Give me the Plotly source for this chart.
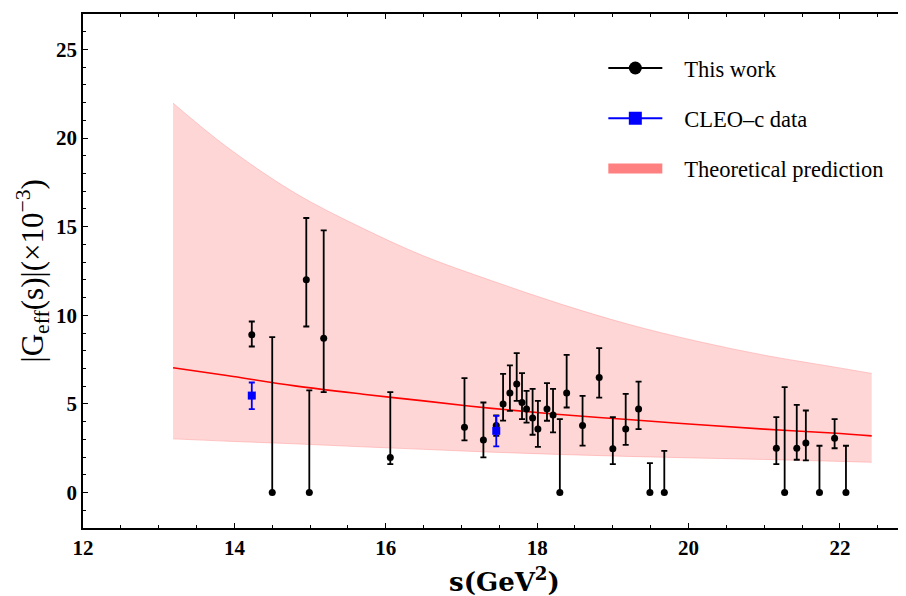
import plotly.graph_objects as go

# ---- Data: "This work" ----
s_work = [14.23, 14.50, 14.95, 14.99, 15.18, 16.06, 17.04, 17.29, 17.46, 17.55,
          17.64, 17.73, 17.80, 17.86, 17.94, 18.01, 18.13, 18.21, 18.30, 18.39,
          18.60, 18.82, 19.00, 19.17, 19.34, 19.49, 19.68, 21.16, 21.27, 21.43,
          21.55, 21.73, 21.93, 22.08]
g_work = [8.90, 0.0, 12.0, 0.0, 8.71, 1.98, 3.69, 2.97, 3.78, 5.00,
          5.61, 6.12, 5.08, 4.71, 4.20, 3.59, 4.71, 4.38, 0.0, 5.61,
          3.78, 6.49, 2.47, 3.59, 4.71, 0.0, 0.0, 2.50, 0.0, 2.50,
          2.79, 0.0, 3.07, 0.0]
g_work_hi = [9.65, 8.77, 15.49, 5.76, 14.79, 5.67, 6.46, 5.08, 4.35, 6.70,
             7.17, 7.87, 6.74, 5.74, 5.85, 5.17, 6.17, 5.85, 4.14, 7.77,
             5.46, 8.15, 4.26, 5.57, 6.26, 1.66, 2.35, 4.26, 5.95, 4.95,
             4.63, 2.64, 4.14, 2.64]
g_work_lo = [8.24, 0.0, 9.37, 0.0, 5.67, 1.60, 2.94, 1.98, 3.20, 4.06,
             4.61, 5.17, 4.14, 3.95, 3.26, 2.58, 4.05, 3.39, 0.0, 4.80,
             2.65, 5.36, 1.60, 2.69, 3.58, 0.0, 0.0, 1.60, 0.0, 1.85,
             1.81, 0.0, 2.50, 0.0]

# ---- Data: CLEO-c ----
s_cleo = [14.23, 17.46]
g_cleo = [5.47, 3.48]
g_cleo_hi = [6.21, 4.33]
g_cleo_lo = [4.71, 2.60]

# ---- Theoretical prediction ----
s_theory = [13.19, 13.9, 14.8, 15.7, 16.5, 17.4, 18.3, 19.2, 20.1, 21.0, 21.9, 22.42]
g_center = [7.04, 6.60, 6.02, 5.55, 5.17, 4.75, 4.40, 4.12, 3.84, 3.58, 3.36, 3.20]
g_upper = [21.97, 19.5, 16.9, 14.9, 13.35, 11.95, 10.65, 9.50, 8.55, 7.75, 7.10, 6.72]
g_lower = [3.03, 2.90, 2.75, 2.58, 2.44, 2.28, 2.15, 2.04, 1.95, 1.87, 1.77, 1.71]

x_ticks = [12, 14, 16, 18, 20, 22]
y_ticks = [0, 5, 10, 15, 20, 25]

err_p = [h - v for h, v in zip(g_work_hi, g_work)]
err_m = [v - l for v, l in zip(g_work, g_work_lo)]
cerr_p = [h - v for h, v in zip(g_cleo_hi, g_cleo)]
cerr_m = [v - l for v, l in zip(g_cleo, g_cleo_lo)]

fig = go.Figure()

edge = dict(color="rgba(255,160,160,0.7)", width=0.8, shape="spline")
# band
fig.add_trace(go.Scatter(x=s_theory, y=g_lower, mode="lines", line=edge,
                         showlegend=False, hoverinfo="skip"))
fig.add_trace(go.Scatter(x=s_theory, y=g_upper, mode="lines", fill="tonexty",
                         fillcolor="rgba(255,214,214,1)", line=edge,
                         showlegend=False, hoverinfo="skip"))
fig.add_trace(go.Scatter(x=s_theory, y=g_center, mode="lines",
                         line=dict(color="red", width=1.6, shape="spline"),
                         showlegend=False))

# data
fig.add_trace(go.Scatter(x=s_work, y=g_work, mode="markers",
                         marker=dict(color="black", size=7, symbol="circle"),
                         error_y=dict(type="data", array=err_p, arrayminus=err_m,
                                      color="black", thickness=1.8, width=3),
                         showlegend=False))
fig.add_trace(go.Scatter(x=s_cleo, y=g_cleo, mode="markers",
                         marker=dict(color="blue", size=8, symbol="square"),
                         error_y=dict(type="data", array=cerr_p, arrayminus=cerr_m,
                                      color="blue", thickness=1.8, width=3),
                         showlegend=False))

pad = "\u00a0\u00a0\u00a0"
# legend entries
fig.add_trace(go.Scatter(x=[None], y=[None], mode="lines+markers", name=pad + "This work",
                         line=dict(color="black", width=2),
                         marker=dict(color="black", size=13, symbol="circle"),
                         legendgroup="a"))
fig.add_trace(go.Scatter(x=[None], y=[None], mode="lines+markers", name=pad + "CLEO–c data",
                         line=dict(color="blue", width=2),
                         marker=dict(color="blue", size=13, symbol="square"),
                         legendgroup="b"))
fig.add_trace(go.Scatter(x=[None], y=[None], mode="lines", name=pad + "Theoretical prediction",
                         line=dict(color="#ff8080", width=14),
                         legendgroup="c"))

axis_common = dict(showline=True, linecolor="black", linewidth=1.5, mirror="allticks",
                   ticks="inside", ticklen=5, tickwidth=1.2, tickcolor="black",
                   showgrid=False, zeroline=False, automargin=False,
                   tickfont=dict(family="Liberation Serif", size=21, color="black"))

fig.update_xaxes(range=[12, 22.86], tickvals=x_ticks,
                 ticktext=[f"<b>{t}</b>" for t in x_ticks],
                 minor=dict(dtick=0.5, ticks="inside", ticklen=3, tickcolor="black"),
                 **axis_common)
fig.update_yaxes(range=[-2, 27], tickvals=y_ticks,
                 ticktext=[f"<b>{t}</b>" for t in y_ticks],
                 minor=dict(dtick=1, ticks="inside", ticklen=3, tickcolor="black"),
                 **axis_common)

fig.add_annotation(text="<b>s(GeV<sup>2</sup>)</b>", xref="paper", yref="paper",
                   x=0.513, y=-0.101, xanchor="center", yanchor="middle", showarrow=False,
                   font=dict(family="DejaVu Serif", size=26, color="black"))
fig.add_annotation(text="|G<sub>eff</sub>(s)|(×10<sup>−3</sup>)", xref="paper", yref="paper",
                   x=-0.0614, y=0.5, xanchor="center", yanchor="middle", showarrow=False,
                   textangle=-90,
                   font=dict(family="Liberation Serif", size=31, color="black"))

fig.update_layout(
    width=898, height=588,
    margin=dict(l=75, r=1, t=6, b=68),
    paper_bgcolor="white", plot_bgcolor="white",
    legend=dict(x=0.633, y=0.936, xanchor="left", yanchor="top",
                font=dict(family="Liberation Serif", size=22.5, color="black"),
                tracegroupgap=18, traceorder="grouped", itemwidth=54,
                bgcolor="rgba(0,0,0,0)"),
)

fig.write_html("out.html")
